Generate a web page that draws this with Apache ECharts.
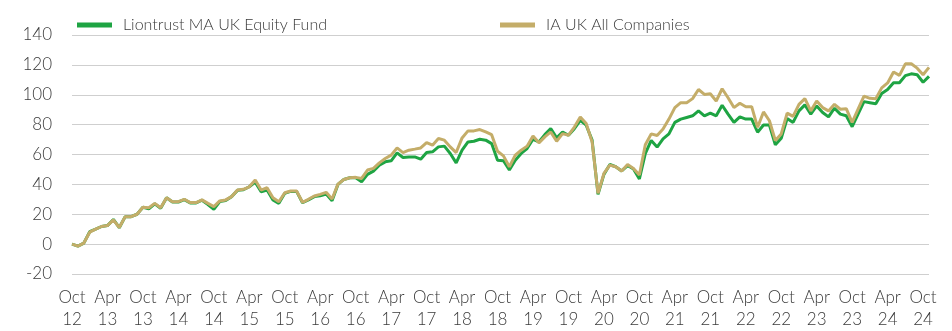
<!DOCTYPE html>
<html>
<head>
<meta charset="utf-8">
<script src="https://cdn.jsdelivr.net/npm/echarts@6/dist/echarts.min.js"></script>
<style>
  html, body { margin: 0; padding: 0; background: #fff; }
  #chart { width: 952px; height: 331px; }
</style>
</head>
<body>
<div id="chart"></div>
<script>
// Cumulative performance (%), month-end, Oct 2012 to Nov 2024
const startYear = 2012;
const startMonth = 9; // October (0-based)
const monthNames = ['Jan','Feb','Mar','Apr','May','Jun','Jul','Aug','Sep','Oct','Nov','Dec'];

const seriesNames = ['Liontrust MA UK Equity Fund', 'IA UK All Companies'];

const fundValues = [
  0, -1.3, 0.7, 8.3, 10, 11.8, 12.4, 16.5, 11, 18.4, 18.4, 20,
  24.7, 23.6, 27, 24, 31, 28.2, 28.2, 29.8, 27.6, 27.6, 29.4, 26.5,
  23.3, 28.5, 29.2, 31.8, 36, 36.4, 38.4, 41.5, 35.1, 36.2, 29.6, 27.3,
  34, 35.3, 35.3, 27.7, 29.6, 31.8, 32.4, 33.5, 29.1, 40, 43.3, 44.4,
  44.4, 41.8, 46.7, 48.9, 52.9, 55.1, 55.8, 61.1, 58, 58.4, 58.4, 56.9,
  61.3, 61.8, 65.1, 65.6, 60.7, 54.4, 62.9, 68.4, 68.9, 70.2, 69.6, 67.3,
  56.2, 55.8, 49.6, 56.2, 60.7, 64, 70.2, 68.4, 73.3, 77.3, 71.1, 75.1,
  72.9, 77.3, 82.9, 79.6, 69.6, 33.3, 46.7, 53.3, 51.8, 49, 52.6, 50.3,
  43.6, 60.6, 69.4, 65, 70.5, 73.8, 81.5, 83.7, 84.8, 85.9, 89.2, 85.9,
  87.7, 85.9, 93, 87, 81.5, 85.2, 83.7, 83.7, 74.9, 79.7, 79.7, 66.5,
  70.9, 84.1, 81.5, 89.2, 93.2, 87, 92.5, 88.1, 85.2, 91, 87, 85.9,
  78.6, 87, 95.4, 94.7, 94, 100.9, 103.5, 108, 108, 112.8, 114, 113.4,
  108.4, 112.3
];

const sectorValues = [
  0, -1.3, 0.7, 8, 10, 11.8, 12.4, 16.2, 11.1, 18.4, 18.4, 20,
  24.7, 24.4, 27.3, 24.4, 31.1, 28.4, 28.4, 30, 27.8, 27.8, 29.6, 27.3,
  25.1, 28.9, 29.6, 31.8, 36.2, 36.7, 38.4, 42.9, 36.2, 37.8, 31.1, 28.4,
  34.4, 35.6, 35.6, 28, 30, 32.2, 33.3, 34.7, 30.2, 40.2, 43.3, 44.4,
  44.7, 44, 49.6, 50.7, 54.4, 57.3, 59.6, 64.4, 61.3, 62.9, 63.6, 64.4,
  68, 66.2, 70.7, 69.6, 65.1, 61.3, 71.1, 75.8, 75.8, 76.7, 75.1, 73.3,
  62.2, 59.1, 51.8, 59.6, 62.9, 65.6, 72.4, 67.8, 71.8, 75.1, 68.9, 74,
  72.9, 78.4, 85.1, 80.7, 68.4, 34, 47.3, 52.9, 51.8, 49, 53.3, 50.7,
  46.3, 66.5, 73.8, 72.7, 77, 83.7, 91.4, 94.7, 94.7, 97.4, 103.5, 100.2,
  100.7, 95.8, 104, 98, 91.4, 94.3, 92, 92, 78.2, 88.5, 82.6, 69.4,
  73.8, 87.7, 85.5, 93.6, 97.4, 89.2, 95.8, 91.4, 89.2, 93.6, 90.3, 90.7,
  81.5, 90.3, 99.1, 97.6, 97.4, 104.6, 107.9, 115.2, 113, 120.7, 120.7, 117.8,
  113.4, 118.3
];

const yTicks = { min: -20, max: 140, interval: 20 };

// Month labels "Oct 12", "Nov 12", ...
const categories = fundValues.map(function (_, i) {
  const m = (startMonth + i) % 12;
  const y = startYear + Math.floor((startMonth + i) / 12);
  return monthNames[m] + ' ' + String(y).slice(2);
});

const GREEN = '#1ea443';
const GOLD = '#c4ad69';
const FONT = 'Lato, "Open Sans", sans-serif';
const TEXT = '#3a3a3a';

const chart = echarts.init(document.getElementById('chart'), null, { renderer: 'canvas' });

const legendBase = {
  top: 12,
  icon: 'rect',
  itemWidth: 35,
  itemHeight: 5,
  textStyle: { fontFamily: FONT, fontWeight: 300, fontSize: 16, color: TEXT, padding: [0, 0, 0, 6] }
};

chart.setOption({
  animation: false,
  backgroundColor: '#ffffff',
  legend: [
    Object.assign({}, legendBase, { left: 72, data: [seriesNames[0]] }),
    Object.assign({}, legendBase, { left: 495, data: [seriesNames[1]] })
  ],
  grid: { left: 72, right: 23, top: 35, bottom: 54, containLabel: false },
  xAxis: {
    type: 'category',
    data: categories,
    boundaryGap: false,
    axisLine: { show: false },
    axisTick: { show: false },
    splitLine: { show: false },
    axisLabel: {
      interval: 5,
      margin: 13,
      fontFamily: FONT,
      fontWeight: 300,
      fontSize: 17,
      lineHeight: 22,
      color: TEXT,
      formatter: function (v) { return v.replace(' ', '\n'); }
    }
  },
  yAxis: {
    type: 'value',
    min: yTicks.min,
    max: yTicks.max,
    interval: yTicks.interval,
    axisLine: { show: false },
    axisTick: { show: false },
    axisLabel: {
      margin: 20,
      fontFamily: FONT,
      fontWeight: 300,
      fontSize: 17,
      color: TEXT
    },
    splitLine: { lineStyle: { color: '#cfcfcf', width: 1.2 } }
  },
  series: [
    {
      name: seriesNames[0],
      type: 'line',
      data: fundValues,
      symbol: 'none',
      color: GREEN,
      lineStyle: { color: GREEN, width: 3 },
      z: 2
    },
    {
      name: seriesNames[1],
      type: 'line',
      data: sectorValues,
      symbol: 'none',
      color: GOLD,
      lineStyle: { color: GOLD, width: 3 },
      z: 3
    }
  ]
});
</script>
</body>
</html>
